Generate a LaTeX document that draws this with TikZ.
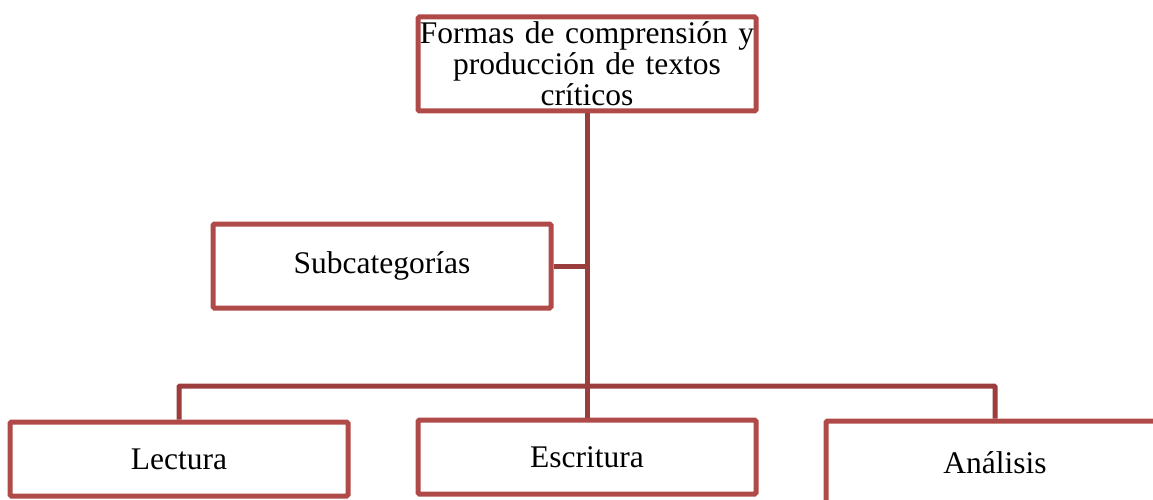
\documentclass[tikz,border=0pt]{standalone}
\usepackage{fontspec}
\setmainfont{Liberation Serif}
\usepackage{xcolor}
\usetikzlibrary{positioning}
\definecolor{boxred}{RGB}{176,74,72}
\definecolor{linered}{RGB}{155,61,60}

\begin{document}
\begin{tikzpicture}[x=1pt,y=-1pt,
  box/.style={draw=boxred, line width=5pt, rounded corners=1.5pt, fill=white,
    minimum width=338pt, minimum height=74pt, inner sep=0pt, align=center,
    font=\fontsize{31.5}{31}\selectfont},
  link/.style={draw=linered, line width=5pt}]
\useasboundingbox (0,0) rectangle (1153,500);
\clip (0,0) rectangle (1153,500);

% Top category
\node[box, minimum height=94pt, text width=330pt] (forms) at (587,64)
  {\makebox[\linewidth]{Formas de comprensión y}\\producción de textos\\críticos};

% Subcategory label
\node[box, minimum height=84pt] (sub) at (382,266) {Subcategorías};

% Bottom row
\node[box] (lect) at (179,459) {Lectura};
\node[box] (escr) at (587,457) {Escritura};
\node[box, minimum height=84pt] (anal) at (995,463) {Análisis};

% Connectors
\coordinate (bar) at (587,386);
\draw[link] (forms.south) -- (escr.north);
\draw[link] (sub.east) -- (sub.east -| forms.south);
\draw[link, rounded corners=1pt] (lect.north) |- (bar) -| (anal.north);
\end{tikzpicture}
\end{document}
